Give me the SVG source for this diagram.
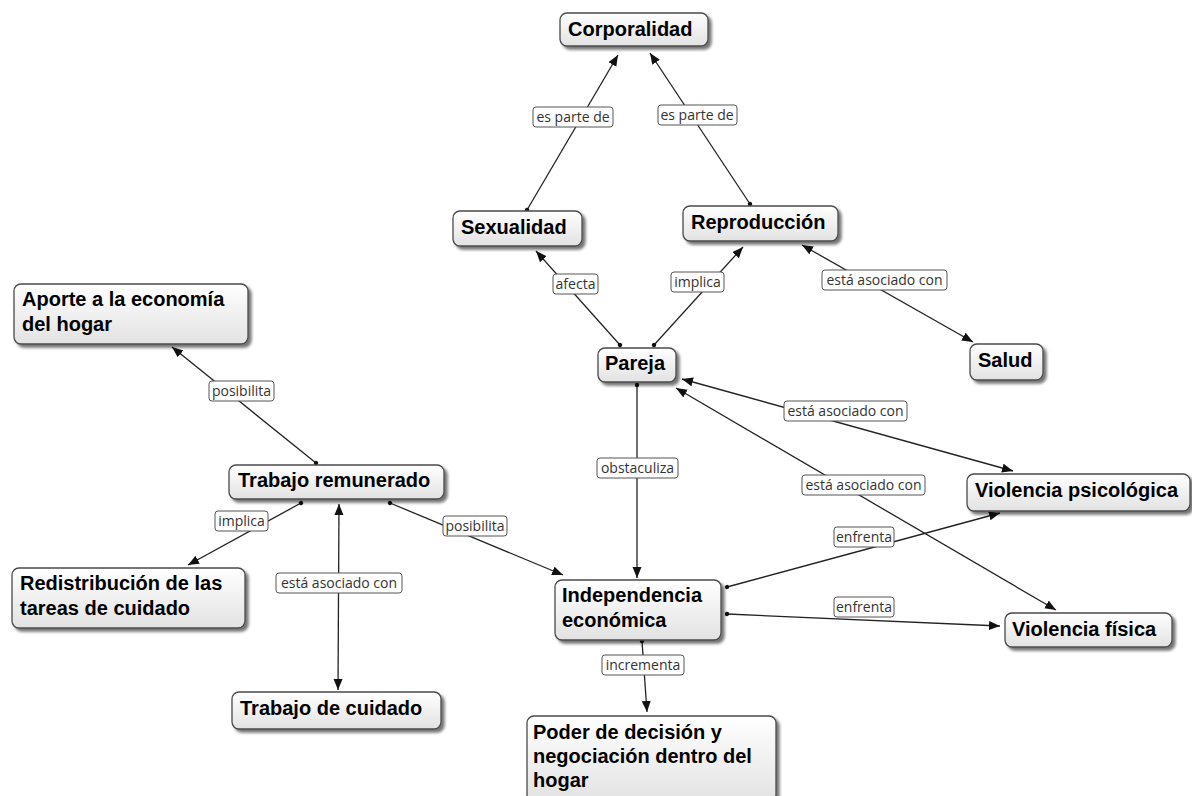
<svg xmlns="http://www.w3.org/2000/svg" width="1192" height="796" viewBox="0 0 1192 796">
<style>
.node rect{fill:url(#g);stroke:#4a4a4a;stroke-width:1.3;filter:url(#sh)}
.node text{font-family:"Liberation Sans",Arial,sans-serif;font-weight:bold;font-size:20px;fill:#000}
.lab rect{fill:#fff;stroke:#555;stroke-width:1}
.lab text{font-family:"Open Sans","Noto Sans",sans-serif;font-size:14px;fill:#333;text-anchor:middle}
.c{stroke:#222;stroke-width:1.3;fill:none}
.s{marker-start:url(#dot);marker-end:url(#arr)}
.d{marker-start:url(#arr);marker-end:url(#arr)}
</style>
<defs>
<linearGradient id="g" x1="0" y1="0" x2="0" y2="1">
<stop offset="0" stop-color="#ffffff"/>
<stop offset="1" stop-color="#e2e2e2"/>
</linearGradient>
<filter id="sh" x="-10%" y="-20%" width="130%" height="160%">
<feGaussianBlur in="SourceAlpha" stdDeviation="1.8"/>
<feOffset dx="3" dy="3" result="o"/>
<feComponentTransfer><feFuncA type="linear" slope="0.55"/></feComponentTransfer>
<feMerge><feMergeNode/><feMergeNode in="SourceGraphic"/></feMerge>
</filter>
<marker id="arr" markerUnits="userSpaceOnUse" markerWidth="12" markerHeight="10" refX="11" refY="4.5" orient="auto-start-reverse">
<path d="M0,0 L11,4.5 L0,9 z" fill="#111"/>
</marker>
<marker id="dot" markerUnits="userSpaceOnUse" markerWidth="6" markerHeight="6" refX="3" refY="3" orient="auto">
<circle cx="3" cy="3" r="2.2" fill="#111"/>
</marker>
</defs>
<rect width="1192" height="796" fill="#fff"/>
<g id="connectors">
<path class="c s" d="M527,210 L618,55"/>
<path class="c s" d="M750,204 L650,53"/>
<path class="c s" d="M620,345 L536,251"/>
<path class="c s" d="M654,345 L743,247"/>
<path class="c d" d="M802,245 L973,342"/>
<path class="c s" d="M316,463 L172,347"/>
<path class="c s" d="M637,385 L637,578"/>
<path class="c d" d="M682,379 L1013,471"/>
<path class="c d" d="M676,388 L1056,610"/>
<path class="c s" d="M301,503 L188,565"/>
<path class="c d" d="M339,504 L338,690"/>
<path class="c s" d="M390,503 L563,575"/>
<path class="c s" d="M727,587 L1000,513"/>
<path class="c s" d="M727,614 L1000,626"/>
<path class="c s" d="M642,641 L647,712"/>
<g class="lab">
<rect x="533" y="107" width="80" height="20" rx="3"/><text x="573" y="122">es parte de</text>
<rect x="658" y="105" width="79" height="20" rx="3"/><text x="697" y="120">es parte de</text>
<rect x="553" y="274" width="45" height="20" rx="3"/><text x="575.5" y="289">afecta</text>
<rect x="671" y="272" width="53" height="20" rx="3"/><text x="697.5" y="287">implica</text>
<rect x="822" y="270" width="125" height="20" rx="3"/><text x="884.5" y="285">está asociado con</text>
<rect x="209" y="381" width="65" height="20" rx="3"/><text x="241.5" y="396">posibilita</text>
<rect x="597" y="458" width="81" height="20" rx="3"/><text x="637.5" y="473">obstaculiza</text>
<rect x="784" y="401" width="123" height="20" rx="3"/><text x="845.5" y="416">está asociado con</text>
<rect x="802" y="475" width="123" height="20" rx="3"/><text x="863.5" y="490">está asociado con</text>
<rect x="215" y="511" width="53" height="20" rx="3"/><text x="241.5" y="526">implica</text>
<rect x="443" y="516" width="64" height="20" rx="3"/><text x="475" y="531">posibilita</text>
<rect x="276" y="573" width="126" height="20" rx="3"/><text x="339" y="588">está asociado con</text>
<rect x="834" y="527" width="60" height="20" rx="3"/><text x="864" y="542">enfrenta</text>
<rect x="834" y="597" width="60" height="20" rx="3"/><text x="864" y="612">enfrenta</text>
<rect x="602" y="655" width="82" height="20" rx="3"/><text x="643" y="670">incrementa</text>
</g>
</g>
<g id="n-corporalidad" class="node"><rect x="560" y="13" width="148" height="33" rx="7"/><text x="568" y="36">Corporalidad</text></g>
<g id="n-sexualidad" class="node"><rect x="453" y="211" width="129" height="35" rx="7"/><text x="461" y="234">Sexualidad</text></g>
<g id="n-reproduccion" class="node"><rect x="683" y="206" width="155" height="35" rx="7"/><text x="691" y="229">Reproducción</text></g>
<g id="n-aporte" class="node"><rect x="14" y="284" width="234" height="60" rx="7"/><text x="22" y="306">Aporte a la economía</text><text x="22" y="331">del hogar</text></g>
<g id="n-pareja" class="node"><rect x="598" y="348" width="78" height="34" rx="7"/><text x="605" y="370">Pareja</text></g>
<g id="n-salud" class="node"><rect x="970" y="344" width="73" height="36" rx="7"/><text x="978" y="367">Salud</text></g>
<g id="n-trabajo-remunerado" class="node"><rect x="229" y="465" width="215" height="34" rx="7"/><text x="238" y="487">Trabajo remunerado</text></g>
<g id="n-violencia-psicologica" class="node"><rect x="967" y="474" width="223" height="37" rx="7"/><text x="975" y="497">Violencia psicológica</text></g>
<g id="n-redistribucion" class="node"><rect x="12" y="568" width="233" height="60" rx="7"/><text x="20" y="590">Redistribución de las</text><text x="20" y="615">tareas de cuidado</text></g>
<g id="n-independencia" class="node"><rect x="555" y="580" width="166" height="60" rx="7"/><text x="562" y="602">Independencia</text><text x="562" y="627">económica</text></g>
<g id="n-violencia-fisica" class="node"><rect x="1005" y="613" width="167" height="34" rx="7"/><text x="1012" y="636">Violencia física</text></g>
<g id="n-trabajo-cuidado" class="node"><rect x="232" y="692" width="209" height="37" rx="7"/><text x="240" y="715">Trabajo de cuidado</text></g>
<g id="n-poder" class="node"><rect x="527" y="716" width="249" height="86" rx="7"/><text x="533" y="739">Poder de decisión y</text><text x="533" y="763">negociación dentro del</text><text x="533" y="787">hogar</text></g>
</svg>
